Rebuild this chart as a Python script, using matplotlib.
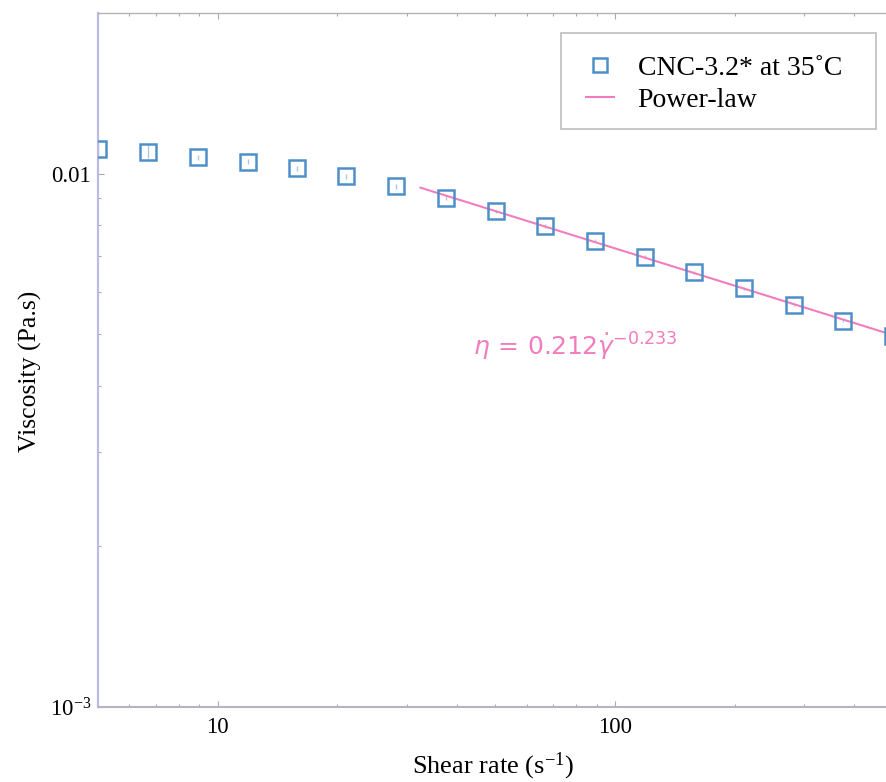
import matplotlib
matplotlib.use("Agg")
import matplotlib.pyplot as plt
from matplotlib.ticker import LogLocator, NullFormatter, FixedLocator, FixedFormatter
from matplotlib.legend_handler import HandlerLine2D
from matplotlib.patches import Rectangle

# ---- data ----
shear_rate = [5.01, 6.68, 8.91, 11.9, 15.8, 21.1, 28.2, 37.6, 50.1, 66.8,
              89.1, 119, 158, 211, 282, 376, 501]
viscosity = [0.01112, 0.01099, 0.01073, 0.01052, 0.01023, 0.00988, 0.00947,
             0.00899, 0.00849, 0.00798, 0.00749, 0.00699, 0.00653, 0.00609,
             0.00568, 0.00530, 0.00497]
viscosity_err = [0.00025, 0.00030, 0.00012, 0.00012, 0.00012, 0.00012, 0.00010,
                 0.00008, 0.00006, 0.00006, 0.00006, 0.00005, 0.00005, 0.00004,
                 0.00004, 0.00004, 0.00004]
fit_x = [32.4, 484]
fit_y = [0.00941, 0.00502]
series_label = "CNC-3.2* at 35˚C"
fit_label = "Power-law"
equation = r"$\eta\, =\, 0.212\dot{\gamma}^{-0.233}$"
x_ticks = [10, 100]
x_ticklabels = ["10", "100"]
y_ticks = [1e-3, 1e-2]
y_ticklabels = [r"10$^{-3}$", "0.01"]

blue = "#4f8fc9"
pink = "#f27dbd"

plt.rcParams['font.family'] = ['Liberation Serif', 'DejaVu Serif']
plt.rcParams['mathtext.fontset'] = 'custom'
plt.rcParams['mathtext.rm'] = 'Liberation Serif'
plt.rcParams['mathtext.it'] = 'Liberation Serif:italic'

W, H = 887, 782
fig = plt.figure(figsize=(W / 100, H / 100), dpi=100)
ax = fig.add_axes([98/W, 1-707/H, 1-98/W, (707-13)/H])
ax.set_xscale('log')
ax.set_yscale('log')

ax.errorbar(shear_rate, viscosity, yerr=viscosity_err, fmt='none',
            ecolor='#a9c8e6', elinewidth=1.0, capsize=0, zorder=2)
ax.plot(shear_rate, viscosity, linestyle='none', marker='s', markersize=12,
        markerfacecolor='none', markeredgecolor=blue, markeredgewidth=1.8,
        label=series_label, zorder=3)
fit_line, = ax.plot(fit_x, fit_y, color=pink, linewidth=1.5, label=fit_label, zorder=2)

ax.text(44.0, 0.00474, equation, color=pink, fontsize=18, ha='left', va='center',
        math_fontfamily='dejavusans')

ax.set_xlim(5.0, 484)
ax.set_ylim(1e-3, 0.02)

ax.xaxis.set_major_locator(FixedLocator(x_ticks))
ax.xaxis.set_major_formatter(FixedFormatter(x_ticklabels))
ax.xaxis.set_minor_locator(LogLocator(base=10, subs=range(2, 10), numticks=20))
ax.xaxis.set_minor_formatter(NullFormatter())
ax.yaxis.set_major_locator(FixedLocator(y_ticks))
ax.yaxis.set_major_formatter(FixedFormatter(y_ticklabels))
ax.yaxis.set_minor_locator(LogLocator(base=10, subs=range(2, 10), numticks=20))
ax.yaxis.set_minor_formatter(NullFormatter())

ax.tick_params(which='both', direction='in', top=True, right=False, colors='#a8a8a8',
               labelcolor='black', labelsize=16.5, width=0.8)
ax.tick_params(which='major', length=4)
ax.tick_params(axis='x', which='major', pad=7)
ax.tick_params(axis='y', which='major', pad=5)
ax.tick_params(which='minor', length=2.5)

ax.spines['right'].set_visible(False)
ax.spines['left'].set_color('#bcbce0')
ax.spines['left'].set_linewidth(1.6)
ax.spines['bottom'].set_color('#b4b4c4')
ax.spines['bottom'].set_linewidth(1.5)
ax.spines['top'].set_color('#b4b4b4')
ax.spines['top'].set_linewidth(1.0)

ax.set_xlabel("Shear rate (s$^{-1}$)", fontsize=19, labelpad=9)
ax.set_ylabel("Viscosity (Pa.s)", fontsize=18.5)
ax.yaxis.set_label_coords(-0.071, 0.483)


def short_line(legend_handle, orig_handle):
    legend_handle.update_from(orig_handle)
    xd = legend_handle.get_xdata()
    if len(xd) == 2:
        c = 0.5 * (xd[0] + xd[1])
        legend_handle.set_xdata([c - 6.5, c + 6.5])


leg = ax.legend(loc='upper left', fontsize=20, frameon=False,
                handlelength=1.0, handletextpad=0.86,
                borderpad=0, labelspacing=0.23, markerscale=0.8,
                bbox_to_anchor=(586/W, 1-55.5/H), bbox_transform=fig.transFigure,
                borderaxespad=0,
                handler_map={fit_line: HandlerLine2D(update_func=short_line)})
leg.set_zorder(6)

frame = Rectangle((561/W, 1-129/H), 315/W, 96/H, transform=fig.transFigure,
                  facecolor='white', edgecolor='#bdbdbd', linewidth=1.2,
                  zorder=5, clip_on=False)
ax.add_artist(frame)

fig.savefig("out.png", dpi=100)
